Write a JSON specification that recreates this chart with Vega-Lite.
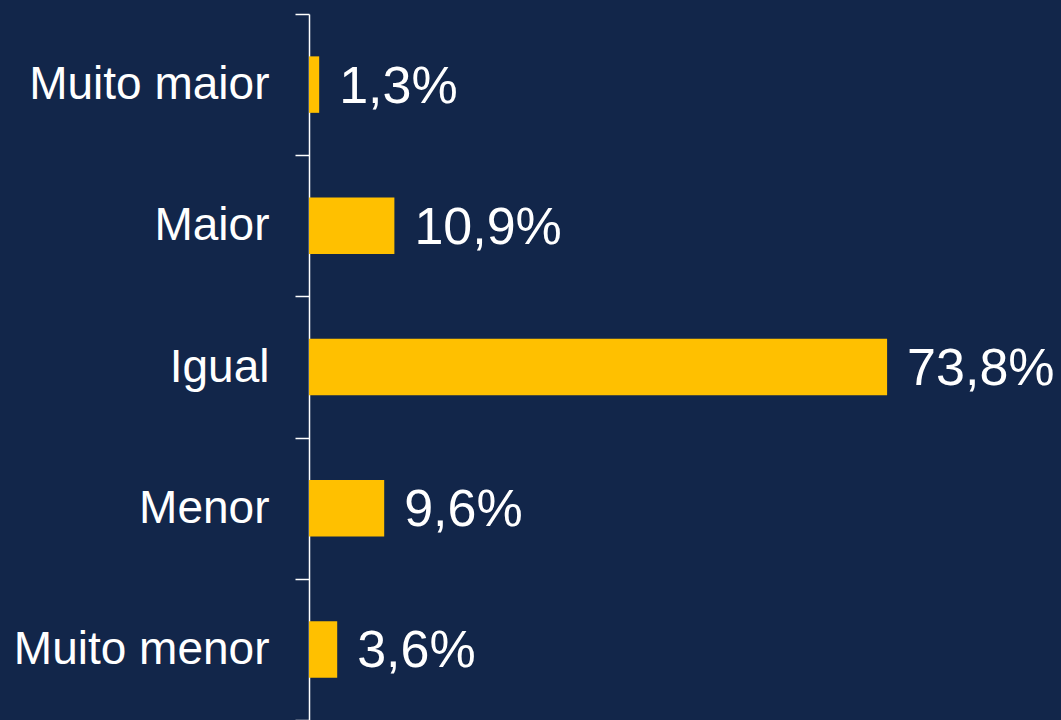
{
  "$schema": "https://vega.github.io/schema/vega-lite/v6.json",
  "width": 752,
  "height": 706,
  "autosize": {"type": "none"},
  "padding": {"left": 309, "top": 14, "right": 0, "bottom": 0},
  "background": "#12264A",
  "config": {"view": {"stroke": null}, "font": "Liberation Sans"},
  "data": {"values": [
    {"categoria": "Muito maior", "valor": 1.3, "rotulo": "1,3%"},
    {"categoria": "Maior", "valor": 10.9, "rotulo": "10,9%"},
    {"categoria": "Igual", "valor": 73.8, "rotulo": "73,8%"},
    {"categoria": "Menor", "valor": 9.6, "rotulo": "9,6%"},
    {"categoria": "Muito menor", "valor": 3.6, "rotulo": "3,6%"}
  ]},
  "encoding": {
    "y": {
      "field": "categoria", "type": "nominal", "sort": null,
      "scale": {"paddingInner": 0, "paddingOuter": 0},
      "axis": {
        "title": null, "tickBand": "extent", "tickSize": 14, "tickColor": "#FFFFFF", "tickWidth": 1.5,
        "domainColor": "#FFFFFF", "domainWidth": 1.5, "labelColor": "#FFFFFF", "labelFontSize": 46,
        "labelFont": "Liberation Sans", "labelPadding": 26, "labelLimit": 400
      }
    },
    "x": {"field": "valor", "type": "quantitative", "scale": {"domain": [0, 96]}, "axis": null}
  },
  "layer": [
    {"mark": {"type": "bar", "color": "#FFC000", "height": {"band": 0.4}}},
    {"mark": {"type": "text", "align": "left", "baseline": "middle", "dx": 20, "dy": 2, "fontSize": 52, "color": "#FFFFFF", "font": "Liberation Sans"},
     "encoding": {"text": {"field": "rotulo"}}}
  ]
}
